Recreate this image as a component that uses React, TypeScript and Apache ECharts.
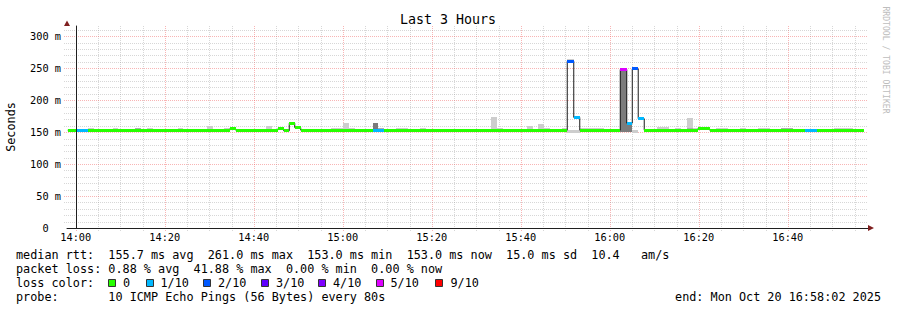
import React, { useEffect, useRef } from 'react';
import * as echarts from 'echarts';

const MONO = '"DejaVu Sans Mono", monospace';

// Time is expressed in minutes relative to 14:00 (view: 13:58:02 .. 16:58:02)
const viewStart = -118 / 60;
const viewEnd = 178 + 2 / 60;
const yMax = 316;

const tickMinutes = [0, 20, 40, 60, 80, 100, 120, 140, 160];
const tickLabels = ['14:00', '14:20', '14:40', '15:00', '15:20', '15:40', '16:00', '16:20', '16:40'];
const yTicks = [0, 50, 100, 150, 200, 250, 300];
const yTickLabels = ['0\u00a0\u00a0', '50 m', '100 m', '150 m', '200 m', '250 m', '300 m'];
const minorXGrid = [0, 5, 10, 15, 20, 25, 30, 35, 40, 45, 50, 55, 60, 65, 70, 75, 80, 85, 90, 95, 100, 105, 110, 115, 120, 125, 130, 135, 140, 145, 150, 155, 160, 165, 170, 175];
const minorYGrid = [10, 20, 30, 40, 50, 60, 70, 80, 90, 100, 110, 120, 130, 140, 150, 160, 170, 180, 190, 200, 210, 220, 230, 240, 250, 260, 270, 280, 290, 300, 310];

// median rtt steps (start minute, ms, lost pings of 10)
const medianStart = [-1.8, 0, 2.7, 34.61, 35.96, 45.39, 46.74, 47.98, 49.21, 50.56, 66.74, 69.21, 110.45, 111.91, 113.26, 122.36, 123.82, 125.06, 126.4, 127.75, 139.78, 142.47, 163.82, 166.52];
const medianMs = [153, 153, 153, 155, 153, 155, 152, 164, 157, 153, 153, 153, 261, 173, 153, 248, 164, 249, 171, 153, 155, 153, 153, 153];
const lossCount = [0, 1, 0, 0, 0, 0, 0, 0, 0, 0, 1, 0, 2, 1, 0, 5, 1, 2, 1, 0, 0, 0, 1, 0];
const dataEnd = 177.08;

// smoke patches
const smokeStart = [2.7, 8.31, 13.26, 15.96, 22.92, 29.44, 33.26, 42.7, 57.3, 60.0, 61.35, 66.74, 67.87, 71.91, 77.3, 93.26, 94.61, 101.35, 103.82, 105.17, 109.21, 110.45, 110.45, 111.91, 113.26, 122.36, 123.82, 125.06, 130.56, 134.61, 137.3, 137.3, 138.65, 143.82, 145.17, 149.21, 153.26, 158.43, 170.34];
const smokeEnd = [4.04, 9.44, 14.61, 17.3, 24.04, 30.79, 34.61, 44.04, 60.0, 61.35, 62.7, 67.87, 69.21, 74.61, 78.65, 94.61, 95.96, 102.7, 105.17, 106.52, 110.45, 111.91, 111.91, 113.26, 118.65, 123.82, 125.06, 126.4, 133.26, 135.96, 138.65, 138.65, 139.78, 145.17, 146.52, 150.56, 155.96, 161.12, 174.61];
const smokeLow = [150, 150, 150, 150, 150, 150, 150, 150, 150, 150, 150, 150, 150, 150, 150, 150, 150, 150, 150, 150, 150, 149, 259, 149, 150, 150, 150, 149, 150, 150, 150, 150, 150, 150, 150, 150, 150, 150, 150];
const smokeHigh = [156.5, 156, 157, 156.5, 156.5, 159, 156.5, 159, 156, 164, 157, 164, 157, 156, 156, 173, 156.5, 160, 162.5, 156.5, 156, 153, 264, 153, 156, 250, 163, 153, 158, 157, 172, 156.5, 156, 156.5, 156, 156, 156, 156, 156];
const smokeShade = [0, 0, 1, 0, 0, 0, 0, 0, 0, 0, 0, 2, 1, 0, 0, 0, 0, 0, 0, 0, 0, 0, 0, 0, 0, 2, 2, 0, 0, 0, 0, 1, 0, 0, 0, 0, 0, 1, 0];
const shadeColors = ['#cdcdcd', '#acacac', '#7c7c7c'];

const lossLabels = ['0', '1/10', '2/10', '3/10', '4/10', '5/10', '9/10'];
const lossColors = ['#26ff00', '#00b8ff', '#0059ff', '#5e00ff', '#7e00ff', '#dd00ff', '#ff0000'];
const legendBoxX = [108, 146, 203, 261, 318, 376, 435];
const legendTextX = [123, 160.5, 218, 276, 333, 390.5, 450.5];

const lineRtt = 'median rtt:  155.7 ms avg  261.0 ms max  153.0 ms min  153.0 ms now  15.0 ms sd  10.4   am/s';
const lineLoss = 'packet loss: 0.88 % avg  41.88 % max  0.00 % min  0.00 % now';
const lineProbe = 'probe:       10 ICMP Echo Pings (56 Bytes) every 80s';
const lineEnd = 'end: Mon Oct 20 16:58:02 2025';

const nb = (s: string) => s.replace(/ /g, '\u00a0');
const lossIndex = (n: number) => (n >= 6 ? 6 : n);

const MINOR = 'rgba(150,150,150,0.38)';
const MAJOR = 'rgba(240,90,90,0.45)';

export default function App() {
  const ref = useRef<HTMLDivElement>(null);
  useEffect(() => {
    if (!ref.current) return;
    const chart = echarts.init(ref.current, undefined, { renderer: 'svg' });

    const vGrid = minorXGrid.map((m) => [m, 0, m % 20 === 0 ? 1 : 0]);
    const hGrid = minorYGrid.map((v) => [viewStart, v, v % 50 === 0 ? 1 : 0]);

    const stepData = medianStart.map((t, i) => [t, medianMs[i]]);
    stepData.push([dataEnd, medianMs[medianMs.length - 1]]);

    const bandData = medianStart.map((t, i) => [
      t,
      i + 1 < medianStart.length ? medianStart[i + 1] : dataEnd,
      medianMs[i],
      lossCount[i],
    ]);
    const smokeData = smokeStart.map((t, i) => [t, smokeEnd[i], smokeLow[i], smokeHigh[i], smokeShade[i]]);

    const texts: any[] = [
      { type: 'text', x: 448, y: 19, style: { text: 'Last 3 Hours', font: `13.3px ${MONO}`, fill: '#000', textAlign: 'center', textVerticalAlign: 'middle' } },
      { type: 'text', x: 11, y: 127, rotation: Math.PI / 2, style: { text: 'Seconds', font: `11.8px ${MONO}`, fill: '#000', textAlign: 'center', textVerticalAlign: 'middle' } },
      { type: 'text', x: 886, y: 60, rotation: -Math.PI / 2, style: { text: nb('RRDTOOL / TOBI OETIKER'), font: `8.1px ${MONO}`, fill: '#bdbdbd', textAlign: 'center', textVerticalAlign: 'middle' } },
      { type: 'text', x: 16, y: 254.5, style: { text: nb(lineRtt), font: `11.8px ${MONO}`, fill: '#000', textAlign: 'left', textVerticalAlign: 'middle' } },
      { type: 'text', x: 16, y: 268.5, style: { text: nb(lineLoss), font: `11.8px ${MONO}`, fill: '#000', textAlign: 'left', textVerticalAlign: 'middle' } },
      { type: 'text', x: 16, y: 282.5, style: { text: nb('loss color:'), font: `11.8px ${MONO}`, fill: '#000', textAlign: 'left', textVerticalAlign: 'middle' } },
      { type: 'text', x: 16, y: 296.5, style: { text: nb(lineProbe), font: `11.8px ${MONO}`, fill: '#000', textAlign: 'left', textVerticalAlign: 'middle' } },
      { type: 'text', x: 881, y: 296.5, style: { text: nb(lineEnd), font: `11.8px ${MONO}`, fill: '#000', textAlign: 'right', textVerticalAlign: 'middle' } },
      // axis arrows
      { type: 'polygon', z: 10, shape: { points: [[64, 26], [70, 26], [67, 20.5]] }, style: { fill: '#7f1f1f' } },
      { type: 'polygon', z: 10, shape: { points: [[868, 225], [868, 231], [874, 228]] }, style: { fill: '#7f1f1f' } },
    ];
    lossLabels.forEach((lab, i) => {
      texts.push({ type: 'rect', shape: { x: legendBoxX[i] + 0.5, y: 279.5, width: 7, height: 7 }, style: { fill: lossColors[i], stroke: '#333', lineWidth: 1 } });
      texts.push({ type: 'text', x: legendTextX[i], y: 282.5, style: { text: lab, font: `11.8px ${MONO}`, fill: '#000', textAlign: 'left', textVerticalAlign: 'middle' } });
    });

    chart.setOption({
      animation: false,
      backgroundColor: '#ffffff',
      grid: { left: 67, right: 29, top: 26, bottom: 82, containLabel: false },
      xAxis: {
        type: 'value',
        min: viewStart,
        max: viewEnd,
        z: 5,
        splitLine: { show: false },
        axisTick: { show: false },
        axisLine: { show: true, lineStyle: { color: '#1f1f1f', width: 1 } },
        axisLabel: {
          customValues: tickMinutes,
          margin: 4,
          color: '#000',
          fontFamily: MONO,
          fontSize: 10.3,
          formatter: (v: number) => {
            let best = 0;
            tickMinutes.forEach((t, i) => { if (Math.abs(t - v) < Math.abs(tickMinutes[best] - v)) best = i; });
            return tickLabels[best];
          },
        },
      },
      yAxis: {
        type: 'value',
        min: 0,
        max: yMax,
        z: 5,
        splitLine: { show: false },
        axisTick: { show: false },
        axisLine: { show: true, lineStyle: { color: '#1f1f1f', width: 1 } },
        axisLabel: {
          customValues: yTicks,
          margin: 6,
          color: '#000',
          fontFamily: MONO,
          fontSize: 10.3,
          formatter: (v: number) => {
            let best = 0;
            yTicks.forEach((t, i) => { if (Math.abs(t - v) < Math.abs(yTicks[best] - v)) best = i; });
            return yTickLabels[best];
          },
        },
      },
      series: [
        {
          type: 'custom',
          name: 'vgrid',
          silent: true,
          z: 1,
          data: vGrid,
          renderItem: (params: any, api: any) => {
            const m = api.value(0);
            const pb = api.coord([m, 0]);
            const pt = api.coord([m, yMax]);
            const x = Math.round(pb[0]) + 0.5;
            return {
              type: 'line',
              shape: { x1: x, y1: pt[1], x2: x, y2: pb[1] + 3 },
              style: { stroke: api.value(2) ? MAJOR : MINOR, lineWidth: 1, lineDash: [1, 1] },
            };
          },
        },
        {
          type: 'custom',
          name: 'hgrid',
          silent: true,
          z: 1,
          data: hGrid,
          renderItem: (params: any, api: any) => {
            const v = api.value(1);
            const pl = api.coord([viewStart, v]);
            const pr = api.coord([viewEnd, v]);
            const y = Math.round(pl[1]) + 0.5;
            return {
              type: 'line',
              shape: { x1: pl[0] - 3, y1: y, x2: pr[0], y2: y },
              style: { stroke: api.value(2) ? MAJOR : MINOR, lineWidth: 1, lineDash: [1, 1] },
            };
          },
        },
        {
          type: 'custom',
          name: 'smoke',
          silent: true,
          z: 2,
          data: smokeData,
          renderItem: (params: any, api: any) => {
            const p0 = api.coord([api.value(0), api.value(3)]);
            const p1 = api.coord([api.value(1), api.value(2)]);
            const x0 = Math.round(p0[0]);
            const x1 = Math.round(p1[0]);
            const y0 = Math.round(p0[1]);
            const y1 = Math.round(p1[1]);
            return {
              type: 'rect',
              shape: { x: x0, y: y0, width: x1 - x0, height: y1 - y0 },
              style: { fill: shadeColors[api.value(4)] },
            };
          },
        },
        {
          type: 'line',
          name: 'median',
          step: 'end',
          z: 3,
          symbol: 'none',
          silent: true,
          lineStyle: { color: '#1a1a1a', width: 1 },
          data: stepData,
        },
        {
          type: 'custom',
          name: 'loss band',
          silent: true,
          z: 4,
          data: bandData,
          renderItem: (params: any, api: any) => {
            const p0 = api.coord([api.value(0), api.value(2)]);
            const p1 = api.coord([api.value(1), api.value(2)]);
            const x0 = Math.round(p0[0]);
            const x1 = Math.round(p1[0]);
            const y = Math.round(p0[1] - 1.5);
            return {
              type: 'rect',
              shape: { x: x0, y, width: x1 - x0, height: 3 },
              style: { fill: lossColors[lossIndex(api.value(3))] },
            };
          },
        },
      ],
      graphic: { elements: texts },
    });
    return () => chart.dispose();
  }, []);
  return <div ref={ref} style={{ position: 'absolute', left: 0, top: 0, width: 897, height: 310 }} />;
}
